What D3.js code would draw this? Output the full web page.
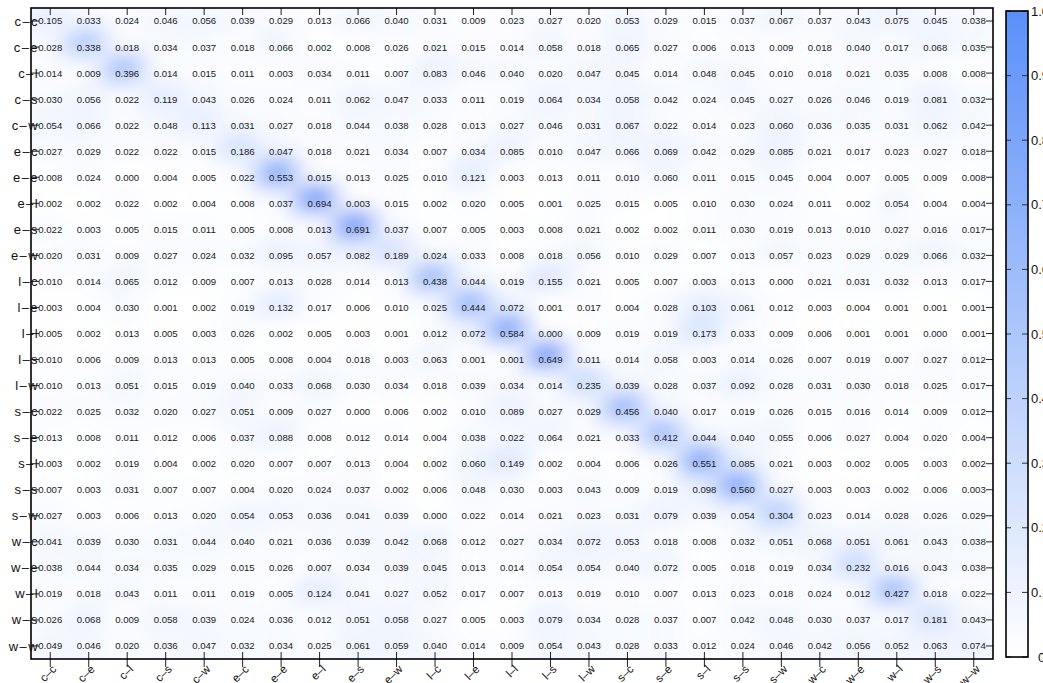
<!DOCTYPE html>
<html>
<head>
<meta charset="utf-8">
<script src="https://cdn.jsdelivr.net/npm/d3@7"></script>
<style>
  body { margin: 0; background: #fff; }
  text { font-family: "Liberation Sans", Arial, Helvetica, sans-serif; }
</style>
</head>
<body>
<svg id="chart" width="1043" height="683"></svg>
<script>
// Transition labels (rows and columns use the same list)
var labels = ["c–c", "c–e", "c–l", "c–s", "c–w",
              "e–c", "e–e", "e–l", "e–s", "e–w",
              "l–c", "l–e", "l–l", "l–s", "l–w",
              "s–c", "s–e", "s–l", "s–s", "s–w",
              "w–c", "w–e", "w–l", "w–s", "w–w"];

// One array per row
var values = [
  [0.105,0.033,0.024,0.046,0.056,0.039,0.029,0.013,0.066,0.040,0.031,0.009,0.023,0.027,0.020,0.053,0.029,0.015,0.037,0.067,0.037,0.043,0.075,0.045,0.038],
  [0.028,0.338,0.018,0.034,0.037,0.018,0.066,0.002,0.008,0.026,0.021,0.015,0.014,0.058,0.018,0.065,0.027,0.006,0.013,0.009,0.018,0.040,0.017,0.068,0.035],
  [0.014,0.009,0.396,0.014,0.015,0.011,0.003,0.034,0.011,0.007,0.083,0.046,0.040,0.020,0.047,0.045,0.014,0.048,0.045,0.010,0.018,0.021,0.035,0.008,0.008],
  [0.030,0.056,0.022,0.119,0.043,0.026,0.024,0.011,0.062,0.047,0.033,0.011,0.019,0.064,0.034,0.058,0.042,0.024,0.045,0.027,0.026,0.046,0.019,0.081,0.032],
  [0.054,0.066,0.022,0.048,0.113,0.031,0.027,0.018,0.044,0.038,0.028,0.013,0.027,0.046,0.031,0.067,0.022,0.014,0.023,0.060,0.036,0.035,0.031,0.062,0.042],
  [0.027,0.029,0.022,0.022,0.015,0.186,0.047,0.018,0.021,0.034,0.007,0.034,0.085,0.010,0.047,0.066,0.069,0.042,0.029,0.085,0.021,0.017,0.023,0.027,0.018],
  [0.008,0.024,0.000,0.004,0.005,0.022,0.553,0.015,0.013,0.025,0.010,0.121,0.003,0.013,0.011,0.010,0.060,0.011,0.015,0.045,0.004,0.007,0.005,0.009,0.008],
  [0.002,0.002,0.022,0.002,0.004,0.008,0.037,0.694,0.003,0.015,0.002,0.020,0.005,0.001,0.025,0.015,0.005,0.010,0.030,0.024,0.011,0.002,0.054,0.004,0.004],
  [0.022,0.003,0.005,0.015,0.011,0.005,0.008,0.013,0.691,0.037,0.007,0.005,0.003,0.008,0.021,0.002,0.002,0.011,0.030,0.019,0.013,0.010,0.027,0.016,0.017],
  [0.020,0.031,0.009,0.027,0.024,0.032,0.095,0.057,0.082,0.189,0.024,0.033,0.008,0.018,0.056,0.010,0.029,0.007,0.013,0.057,0.023,0.029,0.029,0.066,0.032],
  [0.010,0.014,0.065,0.012,0.009,0.007,0.013,0.028,0.014,0.013,0.438,0.044,0.019,0.155,0.021,0.005,0.007,0.003,0.013,0.000,0.021,0.031,0.032,0.013,0.017],
  [0.003,0.004,0.030,0.001,0.002,0.019,0.132,0.017,0.006,0.010,0.025,0.444,0.072,0.001,0.017,0.004,0.028,0.103,0.061,0.012,0.003,0.004,0.001,0.001,0.001],
  [0.005,0.002,0.013,0.005,0.003,0.026,0.002,0.005,0.003,0.001,0.012,0.072,0.584,0.000,0.009,0.019,0.019,0.173,0.033,0.009,0.006,0.001,0.001,0.000,0.001],
  [0.010,0.006,0.009,0.013,0.013,0.005,0.008,0.004,0.018,0.003,0.063,0.001,0.001,0.649,0.011,0.014,0.058,0.003,0.014,0.026,0.007,0.019,0.007,0.027,0.012],
  [0.010,0.013,0.051,0.015,0.019,0.040,0.033,0.068,0.030,0.034,0.018,0.039,0.034,0.014,0.235,0.039,0.028,0.037,0.092,0.028,0.031,0.030,0.018,0.025,0.017],
  [0.022,0.025,0.032,0.020,0.027,0.051,0.009,0.027,0.000,0.006,0.002,0.010,0.089,0.027,0.029,0.456,0.040,0.017,0.019,0.026,0.015,0.016,0.014,0.009,0.012],
  [0.013,0.008,0.011,0.012,0.006,0.037,0.088,0.008,0.012,0.014,0.004,0.038,0.022,0.064,0.021,0.033,0.412,0.044,0.040,0.055,0.006,0.027,0.004,0.020,0.004],
  [0.003,0.002,0.019,0.004,0.002,0.020,0.007,0.007,0.013,0.004,0.002,0.060,0.149,0.002,0.004,0.006,0.026,0.551,0.085,0.021,0.003,0.002,0.005,0.003,0.002],
  [0.007,0.003,0.031,0.007,0.007,0.004,0.020,0.024,0.037,0.002,0.006,0.048,0.030,0.003,0.043,0.009,0.019,0.098,0.560,0.027,0.003,0.003,0.002,0.006,0.003],
  [0.027,0.003,0.006,0.013,0.020,0.054,0.053,0.036,0.041,0.039,0.000,0.022,0.014,0.021,0.023,0.031,0.079,0.039,0.054,0.304,0.023,0.014,0.028,0.026,0.029],
  [0.041,0.039,0.030,0.031,0.044,0.040,0.021,0.036,0.039,0.042,0.068,0.012,0.027,0.034,0.072,0.053,0.018,0.008,0.032,0.051,0.068,0.051,0.061,0.043,0.038],
  [0.038,0.044,0.034,0.035,0.029,0.015,0.026,0.007,0.034,0.039,0.045,0.013,0.014,0.054,0.054,0.040,0.072,0.005,0.018,0.019,0.034,0.232,0.016,0.043,0.038],
  [0.019,0.018,0.043,0.011,0.011,0.019,0.005,0.124,0.041,0.027,0.052,0.017,0.007,0.013,0.019,0.010,0.007,0.013,0.023,0.018,0.024,0.012,0.427,0.018,0.022],
  [0.026,0.068,0.009,0.058,0.039,0.024,0.036,0.012,0.051,0.058,0.027,0.005,0.003,0.079,0.034,0.028,0.037,0.007,0.042,0.048,0.030,0.037,0.017,0.181,0.043],
  [0.049,0.046,0.020,0.036,0.047,0.032,0.034,0.025,0.061,0.059,0.040,0.014,0.009,0.054,0.043,0.028,0.033,0.012,0.024,0.046,0.042,0.056,0.052,0.063,0.074]
];

// Colour bar ticks
var legendTicks = [0, 0.1, 0.2, 0.3, 0.4, 0.5, 0.6, 0.7, 0.8, 0.9, 1.0];
var legendLabels = ["0", "0.1", "0.2", "0.3", "0.4", "0.5", "0.6", "0.7", "0.8", "0.9", "1.0"];

var svg = d3.select("#chart");

// plot frame
var plotLeft = 31, plotRight = 993, plotTop = 8, plotBottom = 659;

var x = d3.scaleBand().domain(labels).range([plotLeft, plotRight]);
var y = d3.scaleBand().domain(labels).range([plotTop, plotBottom]);
var color = d3.scaleLinear().domain([0, 1]).range(["#ffffff", "#5b8ff9"]);

// flatten into cells
var cells = [];
values.forEach(function(row, i) {
  row.forEach(function(v, j) {
    cells.push({ row: labels[i], col: labels[j], value: v });
  });
});

var defs = svg.append("defs");
defs.append("clipPath").attr("id", "plotClip")
  .append("rect")
  .attr("x", plotLeft).attr("y", plotTop)
  .attr("width", plotRight - plotLeft).attr("height", plotBottom - plotTop);

var blur = defs.append("filter").attr("id", "soft")
  .attr("x", "-5%").attr("y", "-5%").attr("width", "110%").attr("height", "110%");
blur.append("feGaussianBlur").attr("stdDeviation", "12 10").attr("edgeMode", "duplicate");

// heat layer: cells blurred into soft blobs
var heat = svg.append("g").attr("clip-path", "url(#plotClip)")
  .append("g").attr("filter", "url(#soft)");

heat.append("rect")
  .attr("x", plotLeft - 30).attr("y", plotTop - 30)
  .attr("width", plotRight - plotLeft + 60).attr("height", plotBottom - plotTop + 60)
  .attr("fill", color(0.025));

// round spots work better than squares under the blur
heat.selectAll("ellipse.cell")
  .data(cells)
  .enter()
  .append("ellipse")
  .attr("class", "cell")
  .attr("cx", function(d) { return x(d.col) + x.bandwidth() / 2; })
  .attr("cy", function(d) { return y(d.row) + y.bandwidth() / 2; })
  .attr("rx", x.bandwidth() * 0.66)
  .attr("ry", y.bandwidth() * 0.74)
  .attr("fill", function(d) { return color(Math.min(1, d.value * 1.5)); });

// value labels
svg.append("g").selectAll("text")
  .data(cells)
  .enter()
  .append("text")
  .attr("x", function(d) { return x(d.col) + x.bandwidth() / 2; })
  .attr("y", function(d) { return y(d.row) + y.bandwidth() / 2; })
  .attr("dy", "0.36em")
  .attr("text-anchor", "middle")
  .attr("font-size", 9.6)
  .attr("fill", "#1a1a1a")
  .text(function(d) { return d.value.toFixed(3); });

// ticks: top inward, bottom crossing, left/right inward
var ticks = svg.append("g").attr("stroke", "#222").attr("stroke-width", 1);
labels.forEach(function(l) {
  var cx = x(l) + x.bandwidth() / 2;
  var cy = y(l) + y.bandwidth() / 2;
  ticks.append("line").attr("x1", cx).attr("x2", cx).attr("y1", plotTop).attr("y2", plotTop + 7);
  ticks.append("line").attr("x1", cx).attr("x2", cx).attr("y1", plotBottom - 7).attr("y2", plotBottom + 8);
  ticks.append("line").attr("x1", plotLeft).attr("x2", plotLeft + 8).attr("y1", cy).attr("y2", cy);
  ticks.append("line").attr("x1", plotRight - 7).attr("x2", plotRight).attr("y1", cy).attr("y2", cy);
});

// frame
svg.append("rect")
  .attr("x", plotLeft).attr("y", plotTop)
  .attr("width", plotRight - plotLeft).attr("height", plotBottom - plotTop)
  .attr("fill", "none").attr("stroke", "#000").attr("stroke-width", 1.6);

// row labels (they sit over the left spine, as in the original)
svg.append("g").selectAll("text")
  .data(labels)
  .enter()
  .append("text")
  .attr("x", plotLeft + 8)
  .attr("y", function(d) { return y(d) + y.bandwidth() / 2; })
  .attr("dy", "0.35em")
  .attr("text-anchor", "end")
  .attr("font-size", 13)
  .attr("letter-spacing", 1.4)
  .attr("fill", "#111")
  .text(function(d) { return d; });

// column labels, rotated
svg.append("g").selectAll("text")
  .data(labels)
  .enter()
  .append("text")
  .attr("transform", function(d) {
    return "translate(" + (x(d) + x.bandwidth() / 2 + 4) + "," + (plotBottom + 8) + ") rotate(-45)";
  })
  .attr("dy", "0.35em")
  .attr("text-anchor", "end")
  .attr("font-size", 11.5)
  .attr("fill", "#111")
  .text(function(d) { return d; });

// colour bar
var barX = 1006, barW = 22, barTop = 11, barBottom = 657;
var ly = d3.scaleLinear().domain([0, 1]).range([barBottom, barTop]);

var grad = defs.append("linearGradient").attr("id", "barGrad")
  .attr("x1", 0).attr("y1", 1).attr("x2", 0).attr("y2", 0);
grad.append("stop").attr("offset", "0%").attr("stop-color", color(0));
grad.append("stop").attr("offset", "100%").attr("stop-color", color(1));

svg.append("rect")
  .attr("x", barX).attr("y", barTop)
  .attr("width", barW).attr("height", barBottom - barTop)
  .attr("fill", "url(#barGrad)");

var lt = svg.append("g").attr("stroke", "#333").attr("stroke-width", 1);
legendTicks.forEach(function(t) {
  lt.append("line").attr("x1", barX).attr("x2", barX + 5).attr("y1", ly(t)).attr("y2", ly(t));
  lt.append("line").attr("x1", barX + barW - 6).attr("x2", barX + barW).attr("y1", ly(t)).attr("y2", ly(t));
});

svg.append("rect")
  .attr("x", barX).attr("y", barTop)
  .attr("width", barW).attr("height", barBottom - barTop)
  .attr("fill", "none").attr("stroke", "#000").attr("stroke-width", 1.6);

svg.append("g").selectAll("text")
  .data(legendTicks)
  .enter()
  .append("text")
  .attr("x", function(d, i) { return legendLabels[i].length > 1 ? barX + barW + 3 : barX + barW + 10; })
  .attr("y", function(d) { return ly(d); })
  .attr("dy", "0.35em")
  .attr("font-size", 13)
  .attr("fill", "#111")
  .text(function(d, i) { return legendLabels[i]; });
</script>
</body>
</html>
